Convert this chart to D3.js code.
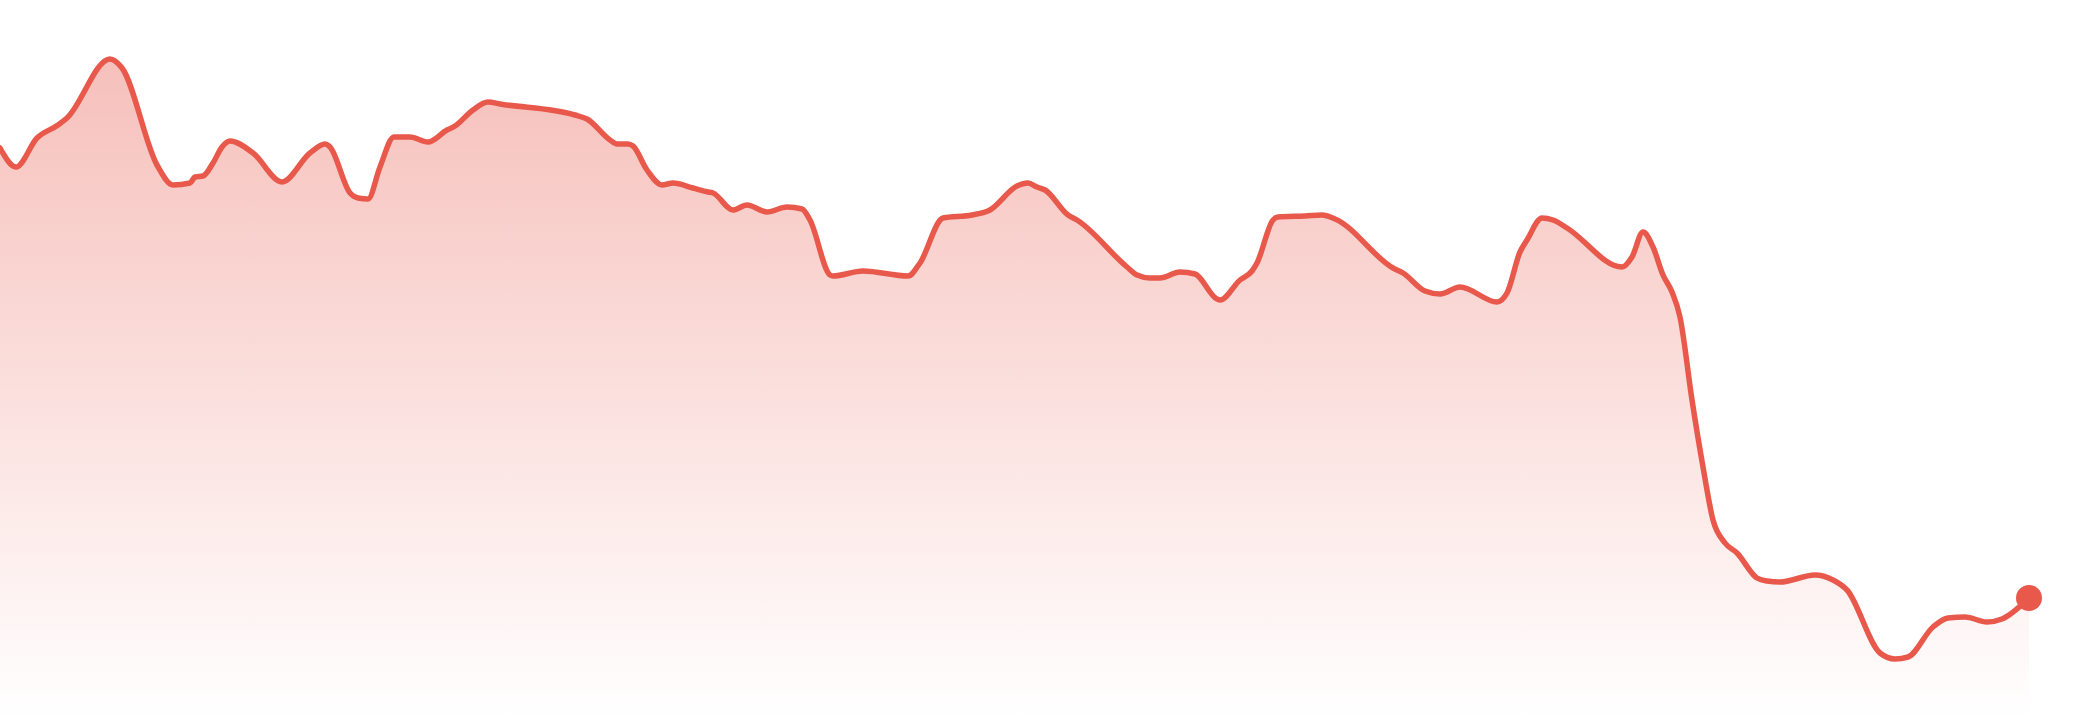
<!DOCTYPE html>
<html>
<head>
<meta charset="utf-8">
<script src="https://cdn.jsdelivr.net/npm/d3@7"></script>
<style>
  html, body { margin: 0; padding: 0; background: #ffffff; }
  svg { display: block; }
</style>
</head>
<body>
<svg id="chart" width="2080" height="720"></svg>
<script>
// time index (arbitrary units) and series values
const times = [0, 1.6, 3.7, 5.8, 6.7, 11.0, 12.2, 15.7, 17.3, 19.0, 19.5, 20.3, 21.3, 22.2, 23.0, 25.3, 28.2, 31.0, 32.5, 33.0,
  35.0, 35.8, 36.8, 38.0, 39.4, 41.0, 42.8, 44.7, 45.5, 47.3, 48.8, 50.0, 57.5, 58.7, 61.0, 61.7, 62.8, 63.3, 64.7, 66.2,
  67.3, 69.3, 70.8, 71.3, 73.3, 74.7, 76.7, 78.7, 80.2, 81.0, 83.0, 83.3, 86.3, 90.8, 92.0, 94.3, 97.2, 99.0, 101.7, 102.8,
  103.7, 104.5, 106.8, 107.7, 112.7, 113.7, 115.0, 116.0, 118.0, 119.5, 121.7, 122.0, 124.0, 125.2, 125.7, 127.3, 127.8, 130.5, 132.2, 133.5,
  139.3, 140.3, 142.5, 144.0, 146.0, 149.7, 150.7, 152.0, 152.7, 154.2, 155.3, 156.7, 162.2, 163.2, 164.3, 165.3, 166.3, 167.2, 168.0, 169.2,
  170.3, 171.3, 172.5, 173.7, 175.7, 176.7, 178.0, 181.5, 183.3, 184.7, 188.0, 189.5, 190.8, 193.3, 194.8, 196.5, 198.7, 200.2, 202.9];

const values = [57.2, 55.3, 58.2, 59.5, 60.2, 66.1, 65.2, 55.5, 53.5, 53.7, 54.3, 54.4, 55.7, 57.3, 57.9, 56.7, 53.8, 56.7, 57.6, 57.3,
  52.7, 52.2, 52.1, 55.3, 58.3, 58.3, 57.8, 59.0, 59.4, 61.0, 61.8, 61.6, 60.5, 60.1, 58.0, 57.6, 57.6, 57.4, 55.0, 53.5,
  53.7, 53.2, 52.8, 52.7, 51.0, 51.5, 50.8, 51.3, 51.1, 50.0, 44.5, 44.4, 44.9, 44.4, 45.7, 50.2, 50.5, 51.0, 53.4, 53.7,
  53.3, 53.0, 50.5, 50.0, 45.3, 44.5, 44.2, 44.2, 44.8, 44.6, 42.1, 42.0, 44.0, 44.9, 45.7, 50.0, 50.3, 50.4, 50.5, 50.1,
  45.2, 44.7, 42.9, 42.6, 43.3, 41.8, 42.7, 46.8, 48.0, 50.2, 50.0, 49.2, 45.3, 46.3, 48.8, 47.3, 44.5, 42.8, 40.3, 32.0,
  25.3, 20.0, 17.7, 16.7, 14.2, 13.9, 13.8, 14.5, 14.0, 13.0, 6.7, 6.1, 6.3, 9.3, 10.2, 10.3, 9.8, 10.1, 12.2];

const xDomain = [0, 208];
const yDomain = [0, 72];

const W = 2080, H = 720;
const data = times.map((t, i) => ({ t, v: values[i] }));

const svg = d3.select("#chart");
const x = d3.scaleLinear().domain(xDomain).range([0, W]);
const y = d3.scaleLinear().domain(yDomain).range([H, 0]);

const lineColor = "#e8594c";

const defs = svg.append("defs");
const grad = defs.append("linearGradient")
  .attr("id", "areaGrad")
  .attr("x1", 0).attr("y1", 0).attr("x2", 0).attr("y2", 1);
grad.append("stop").attr("offset", "0%").attr("stop-color", lineColor).attr("stop-opacity", 0.38);
grad.append("stop").attr("offset", "100%").attr("stop-color", lineColor).attr("stop-opacity", 0.0);

const curve = d3.curveMonotoneX;

const area = d3.area()
  .x(d => x(d.t))
  .y0(y(yDomain[0]))
  .y1(d => y(d.v))
  .curve(curve);

const line = d3.line()
  .x(d => x(d.t))
  .y(d => y(d.v))
  .curve(curve);

svg.append("path")
  .datum(data)
  .attr("d", area)
  .attr("fill", "url(#areaGrad)");

svg.append("path")
  .datum(data)
  .attr("d", line)
  .attr("fill", "none")
  .attr("stroke", lineColor)
  .attr("stroke-width", 5.5)
  .attr("stroke-linejoin", "round")
  .attr("stroke-linecap", "round");

const last = data[data.length - 1];
svg.append("circle")
  .attr("cx", x(last.t))
  .attr("cy", y(last.v))
  .attr("r", 13)
  .attr("fill", lineColor);
</script>
</body>
</html>
